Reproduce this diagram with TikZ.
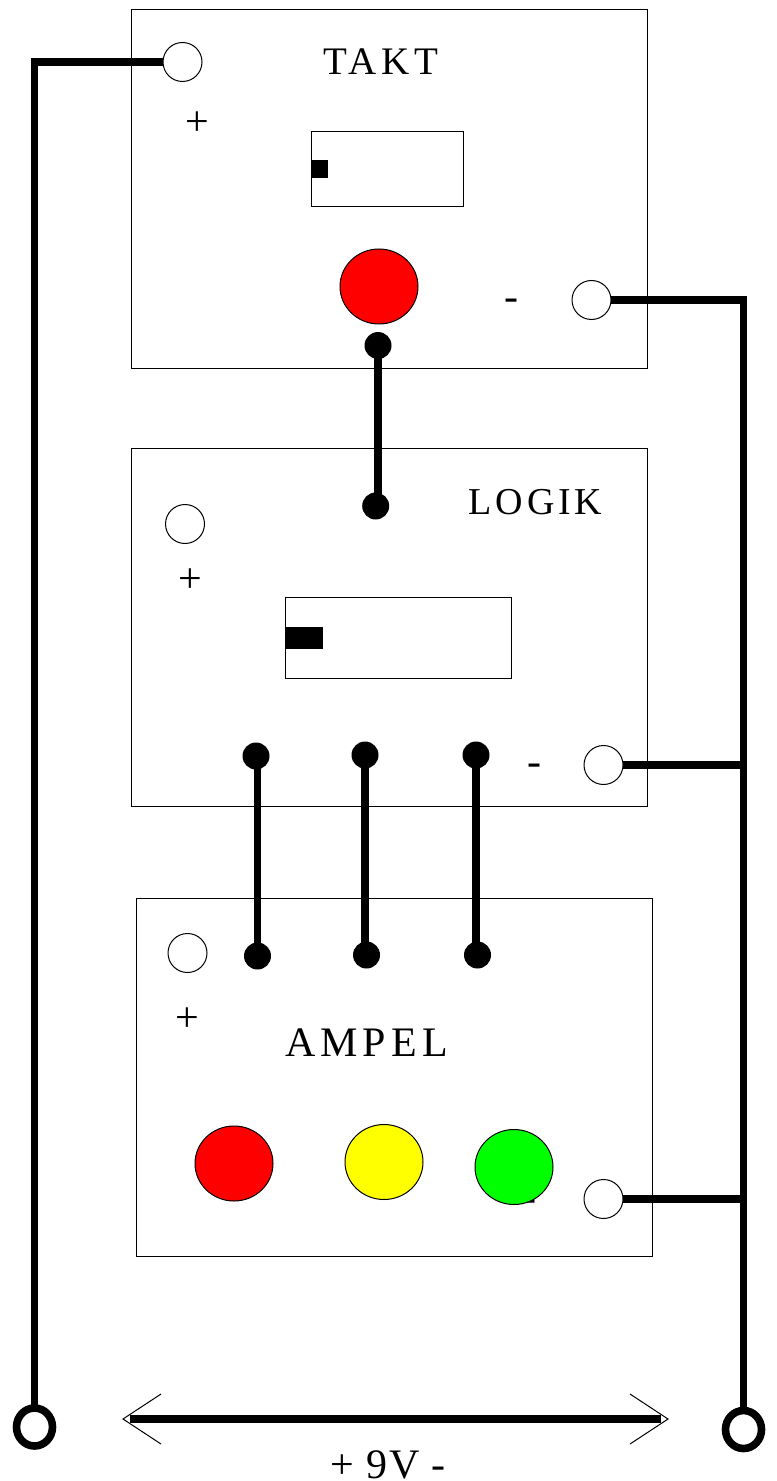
\documentclass[tikz,border=0pt]{standalone}
\usepackage{fontspec}
\setmainfont{Liberation Serif}
\newcommand{\labelsize}{\fontsize{19.5}{23}\selectfont}
\newcommand{\signsize}{\fontsize{21}{25}\selectfont}
\usetikzlibrary{calc,shapes.geometric}
\definecolor{lampred}{RGB}{255,0,0}
\definecolor{lampyellow}{RGB}{255,255,0}
\definecolor{lampgreen}{RGB}{0,255,0}
\tikzset{
  panel/.style = {draw, line width = 0.5pt, inner sep = 0, outer sep = 0, minimum width = 258pt, minimum height = 179pt},
  display/.style = {draw, line width = 0.5pt, inner sep = 0, outer sep = 0},
  slider/.style = {fill = black, inner sep = 0, outer sep = 0},
  socket/.style = {circle, draw, fill = white, line width = 0.5pt, inner sep = 0, outer sep = 0, minimum size = 19.5pt},
  lamp/.style = {ellipse, draw, line width = 0.5pt, inner sep = 0, outer sep = 0, minimum width = 39pt, minimum height = 37.5pt},
  pin/.style = {circle, fill = black, inner sep = 0, outer sep = 0, minimum size = 13.5pt},
  terminal/.style = {ellipse, draw, line width = 3.8pt, inner sep = 0, outer sep = 0, minimum width = 18pt, minimum height = 19pt},
  wire/.style = {line width = 3.8pt},
  thinline/.style = {line width = 0.5pt},
  word/.style = {inner sep = 0, font = \labelsize},
  sign/.style = {inner sep = 0, font = \signsize}
}

\begin{document}
\begin{tikzpicture}[x = 0.5pt, y = -0.5pt]
\useasboundingbox (0, 0) rectangle (776, 1481);
% panels
\node [panel] (takt) at (389, 189) {};
\node [panel] (logik) at (389, 627) {};
\node [panel] (ampel) at (394, 1077) {};
\node [display, minimum width = 76pt, minimum height = 37.5pt] (taktDisplay) at (387, 169.5) {};
\node [display, minimum width = 113pt, minimum height = 40.5pt] (logikDisplay) at (398, 637.5) {};
\node [slider, minimum width = 8.5pt, minimum height = 9pt] (taktSlider) at (319.5, 169) {};
\node [slider, minimum width = 19pt, minimum height = 11pt] (logikSlider) at (304, 638) {};
% labels
\node [word] (taktName) at (381, 62) {\addfontfeature{LetterSpace=12}TAKT};
\node [word, font = \fontsize{19}{23}\selectfont] (logikName) at (535.5, 502) {\addfontfeature{LetterSpace=10}LOGIK};
\node [word, font = \fontsize{21}{25}\selectfont] (ampelName) at (366.5, 1043) {\addfontfeature{LetterSpace=12}AMPEL};
\node [sign] (taktPlus) at (197, 124) {+};
\node [sign] (logikPlus) at (190, 581) {+};
\node [sign] (ampelPlus) at (187, 1020) {+};
\node [sign] (taktMinus) at (511, 305) {-};
\node [sign] (logikMinus) at (534, 770) {-};
\node [sign] (ampelMinus) at (529, 1205.5) {-};
\node [sign] (voltage) at (388, 1465) {\addfontfeature{LetterSpace=4}+ 9V -};
% lamps
\node [lamp, fill = lampred] (taktLamp) at (379, 286.5) {};
\node [lamp, fill = lampred] (redLamp) at (234, 1163.5) {};
\node [lamp, fill = lampyellow] (yellowLamp) at (384, 1162) {};
\node [lamp, fill = lampgreen] (greenLamp) at (514, 1167) {};
% sockets
\node [socket] (taktPos) at (182.5, 62) {};
\node [socket] (taktNeg) at (591.5, 300) {};
\node [socket] (logikPos) at (185, 524) {};
\node [socket] (logikNeg) at (603.5, 765) {};
\node [socket] (ampelPos) at (187.5, 953) {};
\node [socket] (ampelNeg) at (603.5, 1199) {};
% pins
\node [pin] (clockOut) at (378, 345.5) {};
\node [pin] (clockIn) at (375.7, 506) {};
\node [pin] (outA) at (256, 756) {};
\node [pin] (outB) at (365, 755) {};
\node [pin] (outC) at (476, 755) {};
\node [pin] (inA) at (257.5, 956) {};
\node [pin] (inB) at (366.5, 955) {};
\node [pin] (inC) at (477.5, 955) {};
% battery
\node [terminal] (battPos) at (34.5, 1427) {};
\node [terminal] (battNeg) at (743.5, 1429.5) {};
\coordinate (spanL) at (123, 1419);
\coordinate (spanR) at (668, 1419);
\coordinate (spanLa) at (161, 1394);
\coordinate (spanLb) at (161, 1444);
\coordinate (spanRa) at (630, 1394);
\coordinate (spanRb) at (630, 1444);
% wires
\draw [wire] (taktPos.west) -| (battPos.north);
\draw [wire] (taktNeg.east) -| (battNeg.north);
\draw [wire] (logikNeg.east) -- (logikNeg.east -| battNeg.north);
\draw [wire] (ampelNeg.east) -- (ampelNeg.east -| battNeg.north);
\draw [wire] (clockOut.center) -- (clockOut.center |- clockIn.center);
\draw [wire] (inA.center |- outA.center) -- (inA.center);
\draw [wire] (outB.center) -- (outB.center |- inB.center);
\draw [wire] (outC.center) -- (outC.center |- inC.center);
% span arrow
\draw [wire] ($(spanL) + (7, 0)$) -- ($(spanR) + (-7, 0)$);
\draw [thinline] (spanLa) -- (spanL) -- (spanLb);
\draw [thinline] (spanRa) -- (spanR) -- (spanRb);
\end{tikzpicture}
\end{document}
